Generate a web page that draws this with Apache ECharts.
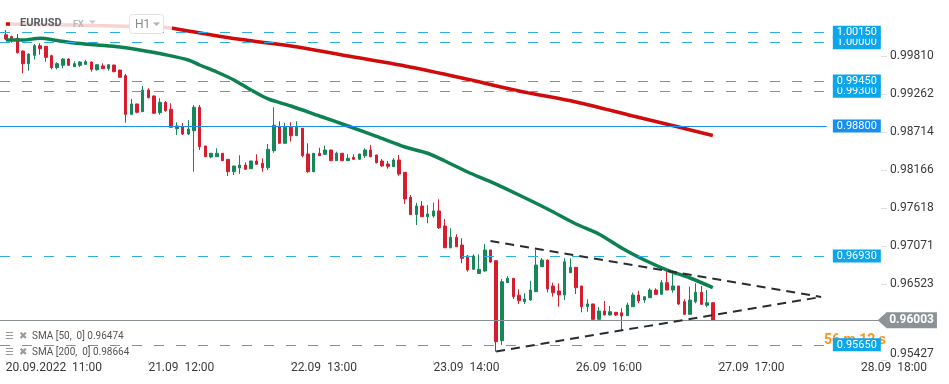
<!DOCTYPE html>
<html><head><meta charset="utf-8">
<script src="https://cdn.jsdelivr.net/npm/echarts@6/dist/echarts.min.js"></script>
<style>html,body{margin:0;padding:0;background:#fff}#c{width:949px;height:384px}</style>
</head><body><div id="c"></div>
<script>
// ---------- DATA ----------
const opens = [1.00115,1.00087,1.00064,0.99881,0.99698,0.99819,0.99957,0.99948,0.99813,0.99640,
0.99675,0.99765,0.99655,0.99675,0.99689,0.99722,0.99611,0.99665,0.99626,0.99679,
0.99607,0.99525,0.98969,0.99118,0.99007,0.99319,0.99233,0.98992,0.99142,0.99041,
0.98762,0.98791,0.98686,0.98733,0.99070,0.98513,0.98354,0.98359,0.98408,0.98321,
0.98143,0.98196,0.98239,0.98186,0.98297,0.98264,0.98200,0.98445,0.98791,0.98552,
0.98782,0.98661,0.98768,0.98398,0.98143,0.98408,0.98393,0.98455,0.98301,0.98408,
0.98301,0.98350,0.98321,0.98373,0.98455,0.98383,0.98297,0.98254,0.98215,0.98311,
0.98134,0.97774,0.97524,0.97649,0.97495,0.97505,0.97577,0.97361,0.97048,0.97198,
0.97087,0.96929,0.96737,0.96677,0.96713,0.97015,0.96861,0.95709,0.96545,0.96608,
0.96363,0.96271,0.96295,0.96415,0.96775,0.96871,0.96497,0.96425,0.96367,0.96688,
0.96766,0.96497,0.96199,0.96238,0.96017,0.96137,0.96079,0.96118,0.96112,0.96069,
0.96199,0.96367,0.96295,0.96328,0.96439,0.96377,0.96545,0.96439,0.96497,0.96271,
0.96089,0.96271,0.96406,0.96219,0.96256];
const closes = [1.00053,1.00049,0.99856,0.99698,0.99837,0.99957,0.99914,0.99790,0.99640,0.99698,
0.99765,0.99675,0.99698,0.99722,0.99727,0.99617,0.99683,0.99626,0.99683,0.99583,
0.99502,0.98969,0.99118,0.98998,0.99319,0.99208,0.98984,0.99142,0.99021,0.98782,
0.98801,0.98686,0.98758,0.99070,0.98503,0.98359,0.98408,0.98408,0.98301,0.98143,
0.98225,0.98239,0.98177,0.98297,0.98249,0.98200,0.98465,0.98811,0.98552,0.98782,
0.98661,0.98782,0.98373,0.98143,0.98408,0.98373,0.98455,0.98301,0.98408,0.98301,
0.98336,0.98321,0.98398,0.98455,0.98359,0.98272,0.98225,0.98220,0.98311,0.98110,
0.97750,0.97524,0.97649,0.97495,0.97534,0.97577,0.97336,0.97048,0.97198,0.97063,
0.96896,0.96727,0.96929,0.96737,0.97015,0.96842,0.95695,0.96559,0.96608,0.96343,
0.96285,0.96310,0.96439,0.96799,0.96871,0.96454,0.96400,0.96367,0.96847,0.96766,
0.96472,0.96199,0.96238,0.96017,0.96137,0.96079,0.96127,0.96079,0.96065,0.96223,
0.96367,0.96281,0.96343,0.96439,0.96377,0.96545,0.96439,0.96497,0.96238,0.96089,
0.96295,0.96406,0.96233,0.96256,0.96003];
const highs = [1.00183,1.00101,1.00125,0.99888,0.99845,0.99981,0.99992,0.99953,0.99827,0.99718,
0.99780,0.99776,0.99732,0.99732,0.99755,0.99732,0.99686,0.99704,0.99686,0.99682,
0.99610,0.99549,0.99190,0.99121,0.99377,0.99344,0.99240,0.99200,0.99161,0.99128,
0.98854,0.98844,0.98887,0.99103,0.99103,0.98516,0.98410,0.98480,0.98410,0.98324,
0.98228,0.98379,0.98278,0.98300,0.98393,0.98336,0.98542,0.99070,0.98868,0.98848,
0.98854,0.98868,0.98772,0.98552,0.98410,0.98488,0.98517,0.98458,0.98431,0.98410,
0.98393,0.98393,0.98400,0.98480,0.98527,0.98386,0.98326,0.98297,0.98336,0.98383,
0.98137,0.97807,0.97696,0.97721,0.97663,0.97696,0.97745,0.97462,0.97328,0.97241,
0.97184,0.96943,0.96953,0.96953,0.97102,0.97018,0.96864,0.96598,0.96641,0.96611,
0.96449,0.96392,0.96573,0.97015,0.96900,0.96874,0.96545,0.96536,0.96896,0.96896,
0.96769,0.96500,0.96305,0.96241,0.96194,0.96281,0.96209,0.96121,0.96176,0.96256,
0.96400,0.96429,0.96346,0.96464,0.96464,0.96583,0.96717,0.96688,0.96500,0.96305,
0.96487,0.96536,0.96497,0.96439,0.96259];
const lows = [1.00039,1.00000,0.99845,0.99560,0.99597,0.99761,0.99827,0.99727,0.99617,0.99617,
0.99632,0.99669,0.99650,0.99650,0.99683,0.99583,0.99597,0.99621,0.99597,0.99574,
0.99498,0.98848,0.98962,0.98984,0.99003,0.99200,0.98981,0.98963,0.99007,0.98779,
0.98671,0.98671,0.98671,0.98143,0.98455,0.98355,0.98336,0.98355,0.98298,0.98081,
0.98095,0.98110,0.98167,0.98182,0.98246,0.98143,0.98167,0.98416,0.98549,0.98549,
0.98575,0.98657,0.98350,0.98128,0.98134,0.98370,0.98390,0.98298,0.98298,0.98297,
0.98297,0.98311,0.98311,0.98340,0.98350,0.98264,0.98215,0.98186,0.98212,0.98085,
0.97678,0.97521,0.97375,0.97492,0.97400,0.97480,0.97318,0.97045,0.97040,0.97060,
0.96824,0.96703,0.96734,0.96674,0.96703,0.96832,0.95551,0.95647,0.96542,0.96310,
0.96238,0.96238,0.96285,0.96411,0.96772,0.96406,0.96343,0.96199,0.96295,0.96685,
0.96382,0.96118,0.96127,0.96014,0.96014,0.96076,0.96076,0.96065,0.95853,0.96065,
0.96196,0.96248,0.96256,0.96325,0.96374,0.96374,0.96436,0.96400,0.96223,0.96086,
0.96086,0.96248,0.96230,0.96190,0.96000];

// SMA readings: [candle index, value]
const sma50 = [[0,1.00039],[3,1.00039],[6,1.00064],[9,1.00032],[12,0.99996],[16,0.99967],[20,0.99938],
[23,0.99902],[28,0.99827],[32,0.99751],[34,0.99679],[37,0.99578],[40,0.99463],[43,0.99319],[46,0.99190],
[50,0.99089],[55,0.98945],[60,0.98801],[65,0.98650],[70,0.98498],[74,0.98408],[77,0.98297],[81,0.98138],
[85,0.97999],[90,0.97807],[95,0.97606],[100,0.97390],[104,0.97246],[108,0.97044],[112,0.96871],
[116,0.96727],[120,0.96612],[124,0.96474]];
const sma200 = [[0,1.00269],[15,1.00248],[28,1.00219],[31,1.00183],[41,1.00049],[50,0.99953],[60,0.99809],
[70,0.99665],[80,0.99492],[90,0.99305],[100,0.99146],[110,0.98945],[118,0.98786],[124,0.98664]];

const dashedLevels = ['1.00000','1.00150','0.99300','0.99450','0.96930','0.95650'];
const solidLevel = '0.98800';
const lastPrice = '0.96003';
const triUpper = [[85,0.97145],[143,0.96339]];
const triLower = [[86,0.95555],[143,0.96339]];

const yTickLabels = [0.95427,0.96523,0.97071,0.97618,0.98166,0.98714,0.99262,0.99810];
const xTickLabels = ['20.09.2022  11:00','21.09  12:00','22.09  13:00','23.09  14:00','26.09  16:00','27.09  17:00','28.09  18:00'];
const legendTexts = ['SMA [50,  0] 0.96474','SMA [200,  0] 0.98664'];
const nCategories = 154;

// ---------- BUILD ----------
const categories = [];
let t = Date.UTC(2022,8,20,11);
while (categories.length < nCategories) {
  const d = new Date(t);
  const wd = d.getUTCDay(), h = d.getUTCHours();
  const closed = (wd === 5 && h >= 23) || wd === 6 || wd === 0;
  if (!closed) {
    const p = n => String(n).padStart(2,'0');
    categories.push(p(d.getUTCDate())+'.'+p(d.getUTCMonth()+1)+' '+p(h)+':00');
  }
  t += 3600000;
}
const candles = opens.map((o,i)=>[o, closes[i], lows[i], highs[i]]);

const GREEN = '#17875a', RED = '#d51d2e';
const boxBlue = '#0ba6ec', lineBlue = '#2eaee9';

const ml = [];
dashedLevels.forEach(s => {
  const v = parseFloat(s);
  ml.push([{coord:[0, v], x:0, lineStyle:{color:lineBlue, type:[10,12], width:1},
    label:{show:true, position:'end', distance:6, formatter:s, color:'#fff', backgroundColor:boxBlue,
      padding:[1,4,0,4], fontSize:11, lineHeight:12, fontFamily:'Roboto'}},
    {coord:[144, v]}]);
});
ml.push([{coord:[0, parseFloat(solidLevel)], x:0, lineStyle:{color:'#1c8df0', type:'solid', width:1},
  label:{show:true, position:'end', distance:6, formatter:solidLevel, color:'#fff', backgroundColor:'#1590f2',
    padding:[1,4,0,4], fontSize:11, lineHeight:12, fontFamily:'Roboto'}},
  {coord:[144, parseFloat(solidLevel)]}]);
ml.push([{coord:[0, parseFloat(lastPrice)], x:0, lineStyle:{color:'#8a8f93', type:'solid', width:1},
  label:{show:true, position:'end', distance:8, formatter:lastPrice, color:'#fff', backgroundColor:'#8c9397',
    padding:[2,3,1,3], fontSize:12, fontWeight:'bold', lineHeight:13, fontFamily:'Roboto'}},
  {coord:[153, parseFloat(lastPrice)]}]);
[triUpper, triLower].forEach(seg => {
  ml.push([{coord:seg[0], lineStyle:{color:'#2a2d30', type:[9,6], width:2}, label:{show:false}}, {coord:seg[1]}]);
});

const chart = echarts.init(document.getElementById('c'), null, {renderer:'canvas'});
const option = {
  animation:false,
  backgroundColor:'#fff',
  grid:{left:3, right:68, top:0, bottom:23},
  xAxis:{
    type:'category', data:categories, boundaryGap:true,
    axisLine:{show:false},
    axisTick:{show:true, alignWithLabel:true, length:4, lineStyle:{color:'#d0d0d0'},
      interval:(i)=> i % 25 === 0},
    axisLabel:{interval:(i)=> i % 25 === 0, align:'left', margin:1, color:'#3a3a3a', fontSize:12, fontFamily:'Roboto',
      formatter:(v,i)=> xTickLabels[i/25] || ''},
    splitLine:{show:false}
  },
  yAxis:{
    type:'value', position:'right', min:0.95417, max:1.00615, scale:true,
    axisLine:{show:false},
    splitLine:{show:false},
    axisTick:{show:true, length:6, lineStyle:{color:'#dedede'}, customValues:yTickLabels},
    axisLabel:{customValues:yTickLabels, margin:9, color:'#3a3a3a', fontSize:12, fontFamily:'Roboto',
      formatter:(v)=> Math.abs(v - yTickLabels[0]) < 1e-7 ? '{low|'+v.toFixed(5)+'}' : v.toFixed(5),
      rich:{low:{padding:[0,0,13,0], fontSize:12, color:'#3a3a3a', fontFamily:'Roboto'}}}
  },
  series:[
    {type:'candlestick', data:candles, barWidth:3,
      itemStyle:{color:GREEN, color0:RED, borderColor:GREEN, borderColor0:RED, borderWidth:1},
      markLine:{silent:true, symbol:['none','none'], animation:false, data:ml},
      markPoint:{silent:true, animation:false, data:[{coord:[153, parseFloat(lastPrice)], symbol:'triangle',
        symbolSize:[16,9], symbolRotate:90, symbolOffset:[4,0], itemStyle:{color:'#8c9397'}, label:{show:false}}]}
    },
    {type:'line', data:sma200, showSymbol:false, smooth:0.3, z:3,
      lineStyle:{color:'#cf0b0b', width:3.5}},
    {type:'line', data:sma50, showSymbol:false, smooth:0.3, z:3,
      lineStyle:{color:'#0e8150', width:3.5}}
  ],
  graphic:[
    {type:'text', z:-10, style:{x:824, y:340, text:'56 m 12 s', fill:'#f7941d', font:'bold 14px Roboto', textVerticalAlign:'middle'}},
    {type:'rect', z:100, shape:{x:10, y:15, width:162, height:15}, style:{fill:'rgba(255,255,255,0.82)'}},
    {type:'text', z:101, style:{x:20, y:23.5, text:'EURUSD', fill:'#5b5f64', font:'bold 11px Roboto', textVerticalAlign:'middle'}},
    {type:'text', z:101, style:{x:73, y:24.5, text:'FX', fill:'#b8b8b8', font:'bold 9px Roboto', textVerticalAlign:'middle'}},
    {type:'polygon', z:101, shape:{points:[[89,20.5],[96,20.5],[92.5,24]]}, style:{fill:'#cccccc'}},
    {type:'rect', z:101, shape:{x:129.5, y:14.5, width:34, height:19, r:3}, style:{fill:'#fff', stroke:'#e3e3e3', lineWidth:1}},
    {type:'text', z:102, style:{x:135, y:24.5, text:'H1', fill:'#8a8a8a', font:'12px Roboto', textVerticalAlign:'middle'}},
    {type:'polygon', z:102, shape:{points:[[153,22.5],[160,22.5],[156.5,26]]}, style:{fill:'#b0b0b0'}},
    {type:'text', z:101, style:{x:5, y:336.5, text:'☰', fill:'#9a9a9a', font:'bold 10px DejaVu Sans', textVerticalAlign:'middle'}},
    {type:'text', z:101, style:{x:19, y:336.5, text:'✖', fill:'#9a9a9a', font:'10px DejaVu Sans', textVerticalAlign:'middle'}},
    {type:'text', z:101, style:{x:32, y:336.5, text:legendTexts[0], fill:'#555', font:'10px Roboto', textVerticalAlign:'middle'}},
    {type:'text', z:101, style:{x:5, y:352.3, text:'☰', fill:'#9a9a9a', font:'bold 10px DejaVu Sans', textVerticalAlign:'middle'}},
    {type:'text', z:101, style:{x:19, y:352.3, text:'✖', fill:'#9a9a9a', font:'10px DejaVu Sans', textVerticalAlign:'middle'}},
    {type:'text', z:101, style:{x:32, y:352.3, text:legendTexts[1], fill:'#555', font:'10px Roboto', textVerticalAlign:'middle'}}
  ]
};
chart.setOption(option);
</script></body></html>
